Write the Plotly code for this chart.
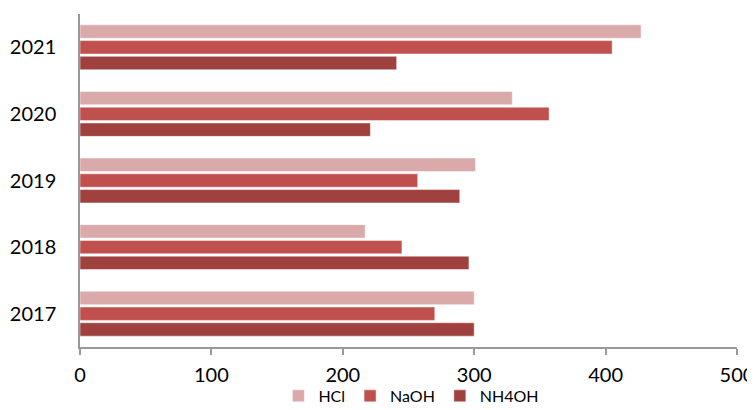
import plotly.graph_objects as go

years = ["2021", "2020", "2019", "2018", "2017"]
hcl = [427, 329, 301, 217, 300]
naoh = [405, 357, 257, 245, 270]
nh4oh = [241, 221, 289, 296, 300]
x_ticks = [0, 100, 200, 300, 400, 500]

series = [("HCl", hcl, "#DAA9A9"), ("NaOH", naoh, "#C0504D"), ("NH4OH", nh4oh, "#9E413F")]

fig = go.Figure()
for name, vals, col in series:
    fig.add_trace(go.Bar(
        y=years, x=vals, name=name, orientation="h",
        marker=dict(color=col, line=dict(color="rgba(255,255,255,0.6)", width=0.8)),
    ))

fig.update_layout(
    width=747, height=402,
    margin=dict(l=72, r=18, t=6, b=63, autoexpand=False),
    paper_bgcolor="white", plot_bgcolor="white",
    barmode="group", bargap=0.29, bargroupgap=0.15,
    font=dict(family="Lato, Open Sans, sans-serif", color="#000000"),
    xaxis=dict(range=[0, 500], tickvals=x_ticks, showgrid=False, zeroline=False,
               showline=True, linecolor="#999999", linewidth=1.5,
               ticks="outside", ticklen=6, tickcolor="#999999", tickwidth=1.5,
               tickfont=dict(size=20), ticklabelstandoff=3, automargin=False),
    yaxis=dict(categoryorder="array", categoryarray=years, autorange="reversed",
               showgrid=False, showline=True, linecolor="#999999", linewidth=1.5,
               ticks="", tickfont=dict(size=20), ticklabelstandoff=18, automargin=False),
    legend=dict(orientation="h", x=0.54, xanchor="center", xref="container",
                y=0.035, yanchor="middle", yref="container",
                bgcolor="rgba(0,0,0,0)",
                font=dict(size=16), itemwidth=30, traceorder="normal"),
    showlegend=True,
)

fig.write_html("out.html")
